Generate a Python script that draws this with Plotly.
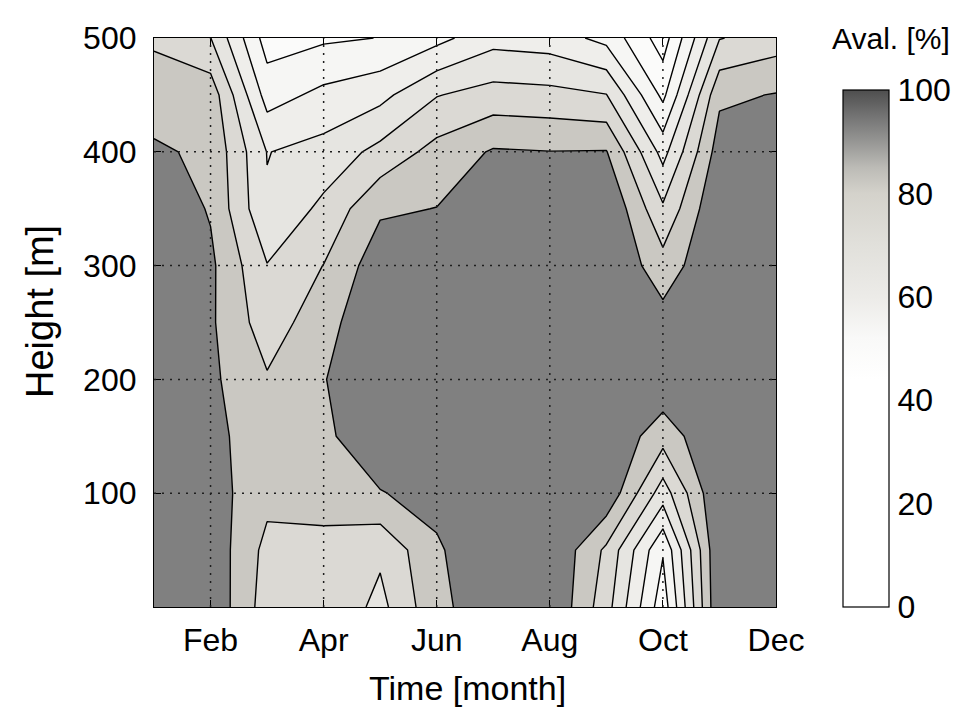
import plotly.graph_objects as go

# Grid: months (Jan=1 ... Dec=12) by height above ground (m)
months = [1, 2, 3, 4, 5, 6, 7, 8, 9, 10, 11, 12]
heights = [0, 50, 100, 150, 200, 250, 300, 350, 400, 450, 500]

# Availability [%], one row per height, one column per month
avail = [
    [98.0, 98.0, 75.0, 79.0, 67.0, 87.5, 96.0, 100.0, 74.0, 34.0, 100.0, 100.0],   # 0 m
    [98.0, 97.0, 77.0, 77.0, 72.0, 88.5, 99.0, 100.0, 78.0, 41.0, 100.0, 100.0],   # 50 m
    [98.0, 94.5, 83.0, 84.0, 89.5, 93.5, 100.0, 100.0, 98.0, 65.0, 100.0, 100.0],  # 100 m
    [98.0, 92.5, 85.0, 88.0, 97.0, 99.0, 100.0, 100.0, 99.0, 84.0, 100.0, 100.0],  # 150 m
    [98.0, 92.0, 81.0, 89.5, 99.0, 99.0, 100.0, 100.0, 100.0, 98.0, 100.0, 100.0], # 200 m
    [98.0, 91.5, 74.75, 86.0, 99.0, 99.0, 100.0, 100.0, 100.0, 94.0, 100.0, 100.0],# 250 m
    [98.0, 92.0, 70.4, 80.2, 96.0, 99.0, 100.0, 100.0, 100.0, 84.0, 100.0, 100.0], # 300 m
    [98.0, 89.1, 61.0, 72.5, 88.5, 90.2, 100.0, 100.0, 100.0, 71.5, 100.0, 100.0], # 350 m
    [91.5, 88.0, 59.7, 63.5, 73.0, 83.5, 91.0, 90.2, 90.5, 56.5, 95.0, 97.0],      # 400 m
    [85.0, 86.0, 45.8, 52.5, 57.0, 69.5, 74.0, 73.0, 70.3, 37.5, 88.0, 90.5],      # 450 m
    [78.5, 70.2, 35.4, 38.5, 40.2, 47.0, 56.5, 55.0, 47.0, 25.0, 69.5, 75.0],      # 500 m
]

month_ticks = [2, 4, 6, 8, 10, 12]
month_labels = ["Feb", "Apr", "Jun", "Aug", "Oct", "Dec"]
height_ticks = [100, 200, 300, 400, 500]
cbar_ticks = [0, 20, 40, 60, 80, 100]

# contour levels 10, 20, ..., 90
level_start, level_end, level_step = 10, 90, 10

# fill colour of each band, from below 10 % up to above 90 %
band_colors = [
    "rgb(255,255,255)", "rgb(255,255,255)", "rgb(253,253,253)", "rgb(251,251,250)",
    "rgb(246,246,244)", "rgb(239,238,235)", "rgb(230,229,225)", "rgb(219,217,212)",
    "rgb(202,200,194)", "rgb(128,128,128)",
]
band_scale = [[i / (len(band_colors) - 1), c] for i, c in enumerate(band_colors)]

# continuous map shown in the colour bar
cbar_scale = [
    [0.00, "rgb(255,255,255)"], [0.44, "rgb(255,255,255)"], [0.52, "rgb(249,249,248)"],
    [0.60, "rgb(236,235,232)"], [0.70, "rgb(225,224,219)"], [0.80, "rgb(212,210,203)"],
    [0.85, "rgb(188,187,182)"], [0.90, "rgb(150,150,148)"], [0.95, "rgb(115,115,115)"],
    [1.00, "rgb(78,78,78)"],
]

FONT = "Liberation Sans, Arial, sans-serif"
TICK_FS = 32
XLABEL_FS = 34
YLABEL_FS = 38
CB_TITLE_FS = 30

# plot-area geometry in pixels
W, H = 954, 710
L, R, T, B = 154, 178, 38, 103
PW, PH = W - L - R, H - T - B
cb_left, cb_top, cb_w = 843, 90, 46
cb_len = (H - B - cb_top) / PH
cb_x = (cb_left - L) / PW

fig = go.Figure()

fig.add_trace(go.Contour(
    x=months, y=heights, z=avail,
    contours=dict(start=level_start, end=level_end, size=level_step, coloring="fill"),
    colorscale=band_scale,
    line=dict(color="black", width=1.4, smoothing=0),
    showscale=False,
    hoverinfo="skip",
))

# colour bar carrier (point lies outside the visible range)
fig.add_trace(go.Scatter(
    x=[1], y=[-1000], mode="markers", showlegend=False, hoverinfo="skip",
    marker=dict(
        color=[0], cmin=0, cmax=100, colorscale=cbar_scale, size=1, showscale=True,
        colorbar=dict(
            x=cb_x, xanchor="left", y=0, yanchor="bottom",
            len=cb_len, lenmode="fraction", thickness=cb_w, thicknessmode="pixels",
            xpad=0, ypad=0, outlinewidth=1.2, outlinecolor="black",
            tickvals=cbar_ticks, ticks="outside", ticklen=2, tickcolor="rgba(0,0,0,0)",
            tickfont=dict(family=FONT, size=TICK_FS, color="black"),
        ),
    ),
))

shapes = []
# dotted grid drawn over the filled contours
for m in month_ticks[:-1]:
    shapes.append(dict(type="line", xref="x", yref="y", x0=m, x1=m, y0=0, y1=500,
                       layer="above", line=dict(color="rgb(30,30,30)", width=1.5, dash="2px,6px")))
for h in height_ticks[:-1]:
    shapes.append(dict(type="line", xref="x", yref="y", x0=1, x1=12, y0=h, y1=h,
                       layer="above", line=dict(color="rgb(30,30,30)", width=1.5, dash="2px,6px")))
# inward tick marks on both edges of the colour bar
for v in cbar_ticks[1:-1]:
    yy = cb_len * v / 100
    for xa, xb in ((cb_left, cb_left + 5), (cb_left + cb_w - 5, cb_left + cb_w)):
        shapes.append(dict(type="line", xref="paper", yref="paper",
                           x0=(xa - L) / PW, x1=(xb - L) / PW, y0=yy, y1=yy,
                           layer="above", line=dict(color="black", width=1.2)))

axis_common = dict(
    showgrid=False, zeroline=False, showline=True, linecolor="black", linewidth=1.2,
    mirror="ticks", ticks="inside", ticklen=7, tickcolor="black", tickwidth=1.2,
    layer="above traces", tickfont=dict(family=FONT, size=TICK_FS, color="black"),
    automargin=False,
)

fig.update_layout(
    width=W, height=H, margin=dict(l=L, r=R, t=T, b=B, autoexpand=False),
    paper_bgcolor="white", plot_bgcolor="white",
    showlegend=False, shapes=shapes,
    xaxis=dict(range=[1, 12], tickvals=month_ticks, ticktext=month_labels,
               ticklabelstandoff=4, **axis_common),
    yaxis=dict(range=[0, 500], tickvals=height_ticks, ticklabelstandoff=10, **axis_common),
    annotations=[
        dict(text="Time [month]", xref="paper", yref="paper", x=(468 - L) / PW,
             y=-(688 - (H - B)) / PH, xanchor="center", yanchor="middle", showarrow=False,
             font=dict(family=FONT, size=XLABEL_FS, color="black")),
        dict(text="Height [m]", xref="paper", yref="paper", x=(40 - L) / PW,
             y=((H - B) - 312) / PH, xanchor="center", yanchor="middle", textangle=-90,
             showarrow=False, font=dict(family=FONT, size=YLABEL_FS, color="black")),
        dict(text="Aval. [%]", xref="paper", yref="paper", x=(891 - L) / PW,
             y=((H - B) - 38) / PH, xanchor="center", yanchor="middle", showarrow=False,
             font=dict(family=FONT, size=CB_TITLE_FS, color="black")),
    ],
)

fig.write_html("out.html")
